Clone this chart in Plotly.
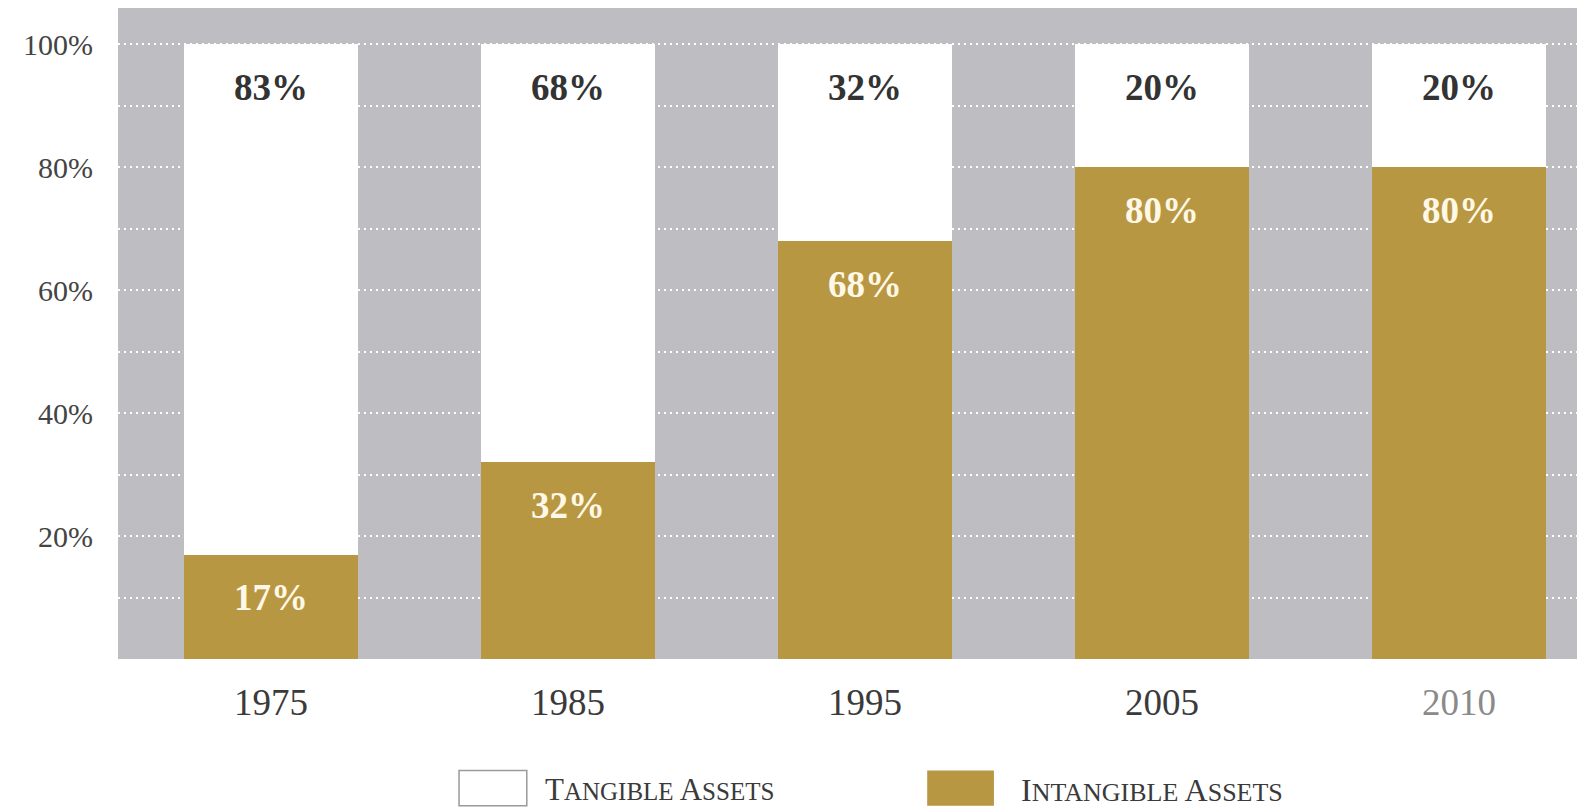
import plotly.graph_objects as go

years = ["1975", "1985", "1995", "2005", "2010"]
intangible = [17, 32, 68, 80, 80]
tangible = [83, 68, 32, 20, 20]
y_ticks = [10, 20, 30, 40, 50, 60, 70, 80, 90, 100]
y_ticktext = ["", "20%", "", "40%", "", "60%", "", "80%", "", "100%"]
x_ticktext = ["1975", "1985", "1995", "2005", "<span style='color:#8a8a8a'>2010</span>"]

GOLD = "#B89743"
GRAY = "#BEBDC1"
SERIF = "Liberation Serif"

W, H = 1600, 807
L, T, R, B = 110, 0, 0, 156
PW, PH = W - L - R, H - T - B

S = 0.989   # observed page-to-photo scale
OFF = 8     # page body margin


def fig_x(xr):
    return xr / S - OFF


def fig_y(yr):
    return yr / S - OFF


def px(xr):  # reference-pixel x -> paper
    return (fig_x(xr) - L) / PW


def py(yr):  # reference-pixel y -> paper
    return (H - B - fig_y(yr)) / PH


fig = go.Figure()
fig.add_trace(go.Bar(x=years, y=intangible, name="Intangible Assets",
                     marker=dict(color=GOLD, line=dict(width=0)), hoverinfo="skip"))
fig.add_trace(go.Bar(x=years, y=tangible, name="Tangible Assets",
                     marker=dict(color="white", line=dict(width=0)), hoverinfo="skip"))

anns = []
for i, (ti, tt) in enumerate(zip(intangible, tangible)):
    anns.append(dict(x=i, y=ti + tt, yshift=-43, text=f"<b>{tt}%</b>", showarrow=False,
                     font=dict(family=SERIF, size=37, color="#333333")))
    anns.append(dict(x=i, y=ti, yshift=-43, text=f"<b>{ti}%</b>", showarrow=False,
                     font=dict(family=SERIF, size=37, color="#FFF8E6")))


def smallcaps(words, small=25):
    parts = []
    for w in words:
        parts.append(f"{w[0]}<span style='font-size:{small}px'>{w[1:]}</span>")
    return " ".join(parts)


anns.append(dict(xref="paper", yref="paper", x=px(537), y=py(781),
                 xanchor="left", yanchor="middle", showarrow=False,
                 text=smallcaps(["TANGIBLE", "ASSETS"]),
                 font=dict(family=SERIF, size=31, color="#3a3a3a")))
anns.append(dict(xref="paper", yref="paper", x=px(1008), y=py(781),
                 xanchor="left", yanchor="middle", showarrow=False,
                 text=smallcaps(["INTANGIBLE", "ASSETS"], small=26),
                 font=dict(family=SERIF, size=32, color="#3a3a3a")))

shapes = [
    dict(type="rect", xref="paper", yref="paper",
         x0=px(454), x1=px(521), y0=py(797), y1=py(762),
         fillcolor="white", line=dict(color="#9a9a9a", width=1.5)),
    dict(type="rect", xref="paper", yref="paper",
         x0=px(917), x1=px(983), y0=py(797), y1=py(762),
         fillcolor=GOLD, line=dict(width=0)),
]

# category axis calibration: first center at ref 268, last at ref 1443
c0, c4 = fig_x(268), fig_x(1443)
step = (c4 - c0) / 4
r0 = -(c0 - L) / step
r1 = r0 + PW / step
# value axis calibration: 0% at ref 652, 100% at ref 44
y0f, y100f = fig_y(652), fig_y(44)
ppu = (y0f - y100f) / 100
ytop = (y0f - T) / ppu

fig.update_layout(
    width=W, height=H,
    barmode="stack", bargap=1 - (172 / S) / step,
    plot_bgcolor=GRAY, paper_bgcolor="white",
    margin=dict(l=L, r=R, t=T, b=B, pad=0),
    showlegend=False,
    annotations=anns, shapes=shapes,
    xaxis=dict(type="category", range=[r0, r1], tickvals=years, ticktext=x_ticktext,
               showgrid=False, zeroline=False, showline=False, ticks="",
               tickfont=dict(family=SERIF, size=37, color="#3a3a3a"),
               ticklabelstandoff=18),
    yaxis=dict(range=[0, ytop], tickvals=y_ticks, ticktext=y_ticktext,
               showgrid=True, gridcolor="white", gridwidth=2, griddash="2px,4px",
               zeroline=False, showline=False, ticks="",
               tickfont=dict(family=SERIF, size=30, color="#444444"),
               ticklabelstandoff=24),
)

fig.write_html("out.html")
